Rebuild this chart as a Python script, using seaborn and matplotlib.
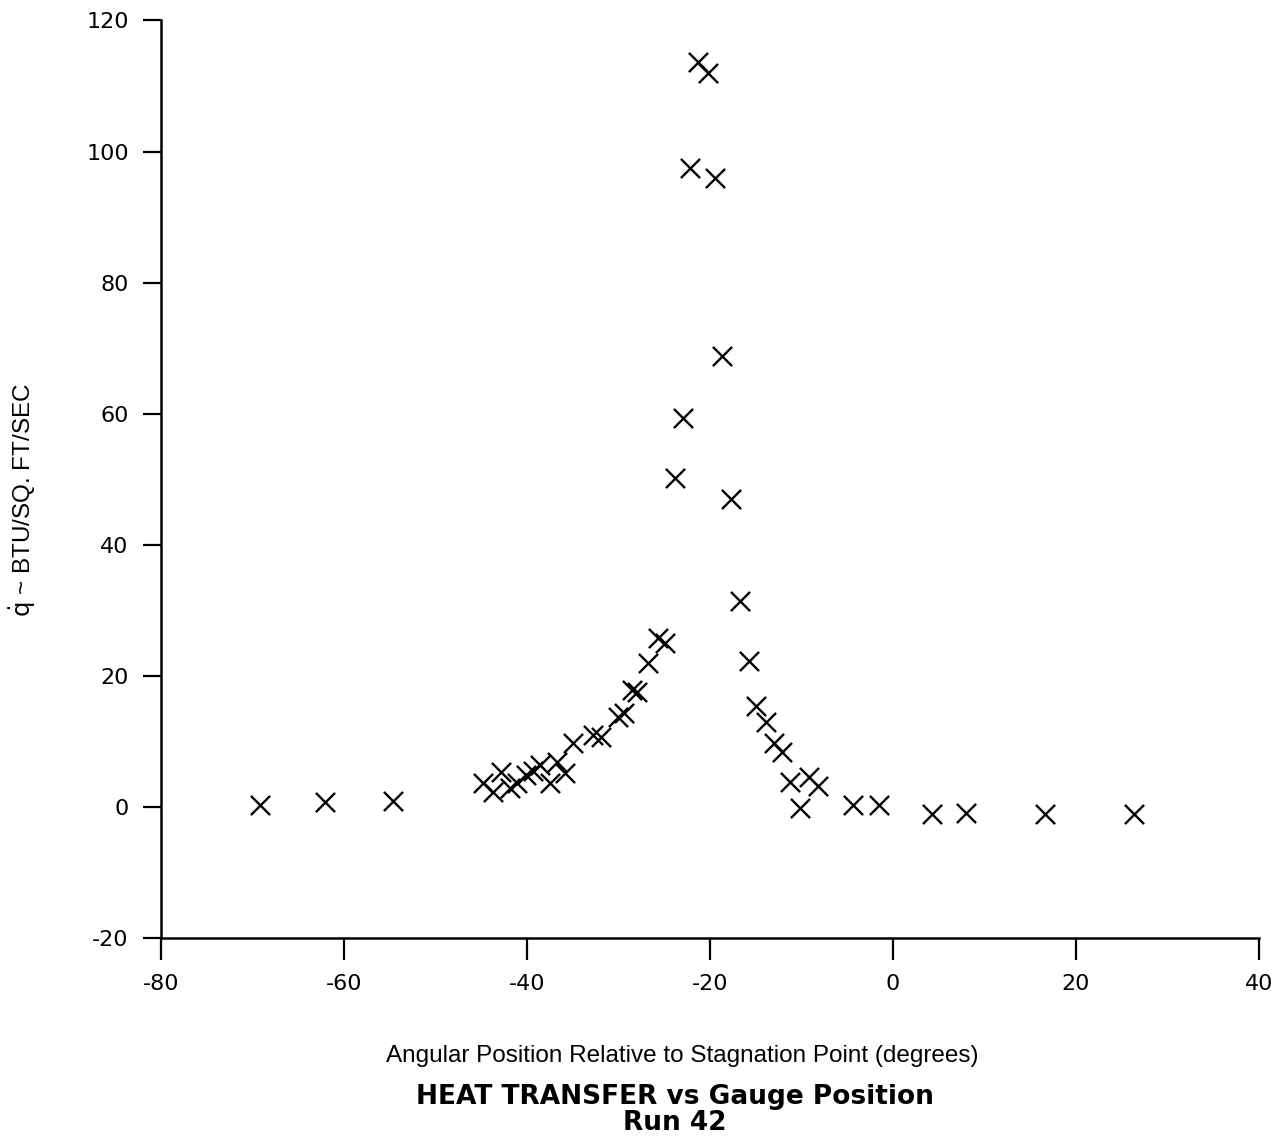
import matplotlib
matplotlib.use("Agg")
import matplotlib.pyplot as plt
import seaborn as sns
import pandas as pd

# Gauge angular position (degrees from stagnation point) and measured heat flux
angle_deg = [
    -69.15, -62.05, -54.6,
    -44.8, -43.7, -42.8, -41.8, -41.07, -40.1, -39.3, -38.55, -37.5, -36.7,
    -35.8, -34.9, -32.75, -31.9, -30.05, -29.4, -28.5, -27.9, -26.75, -25.7,
    -24.9, -23.8, -22.9, -22.15, -21.3, -20.2, -19.4, -18.65, -17.7, -16.7,
    -15.75, -14.9, -13.8, -13.0, -12.05, -11.2, -10.1, -9.1, -8.2, -4.4,
    -1.5, 4.3, 8.0, 16.6, 26.35,
]
heat_flux = [
    0.26, 0.7, 0.9,
    3.6, 2.2, 5.3, 2.9, 3.6, 4.8, 5.45, 6.4, 3.6, 6.8,
    5.1, 9.7, 10.95, 10.6, 13.7, 14.3, 17.8, 17.5, 21.95, 25.7,
    25.0, 50.1, 59.3, 97.5, 113.7, 112.0, 96.0, 68.8, 47.0, 31.4,
    22.3, 15.3, 12.9, 9.7, 8.35, 3.75, -0.2, 4.55, 3.2, 0.26,
    0.26, -1.1, -0.96, -1.1, -1.1,
]

x_ticks = [-80, -60, -40, -20, 0, 20, 40]
y_ticks = [-20, 0, 20, 40, 60, 80, 100, 120]

df = pd.DataFrame({"angle": angle_deg, "q": heat_flux})

sns.set_style("ticks")
plt.rcParams["font.family"] = ["Liberation Sans", "DejaVu Sans"]
plt.rcParams["text.color"] = "black"
plt.rcParams["axes.labelcolor"] = "black"

fig = plt.figure(figsize=(12.78, 11.38), dpi=100)
ax = fig.add_axes([0.1257, 0.176, 0.8593, 0.806])

sns.scatterplot(data=df, x="angle", y="q", marker="x", s=190,
                color="black", linewidth=1.7, ax=ax, clip_on=False, zorder=3)

ax.set_xlim(-80, 40)
ax.set_ylim(-20, 120)
ax.set_xticks(x_ticks)
ax.set_yticks(y_ticks)
ax.set_xticklabels([str(t) for t in x_ticks], fontsize=16, family="DejaVu Sans")
ax.set_yticklabels([str(t) for t in y_ticks], fontsize=16, family="DejaVu Sans")

ax.tick_params(axis="x", direction="out", length=16, width=1.6, pad=10,
               colors="black", labelcolor="black")
ax.tick_params(axis="y", direction="out", length=13, width=1.6, pad=10,
               colors="black", labelcolor="black")

sns.despine(ax=ax)
for side in ("left", "bottom"):
    ax.spines[side].set_linewidth(1.8)
    ax.spines[side].set_color("black")

ax.set_xlabel("Angular Position Relative to Stagnation Point (degrees)",
              fontsize=17.5)
ax.xaxis.set_label_coords(0.4746, -0.117)
ax.set_ylabel(r"$\dot{\mathrm{q}}$ ~ BTU/SQ. FT/SEC", fontsize=17.5)
ax.yaxis.set_label_coords(-0.112, 0.477)

fig.text(0.528, 0.036, "HEAT TRANSFER vs Gauge Position", ha="center", va="center",
         fontsize=19, fontweight="bold", family="DejaVu Sans")
fig.text(0.528, 0.0136, "Run 42", ha="center", va="center",
         fontsize=19, fontweight="bold", family="DejaVu Sans")

fig.savefig("out.png", dpi=100, facecolor="white")
